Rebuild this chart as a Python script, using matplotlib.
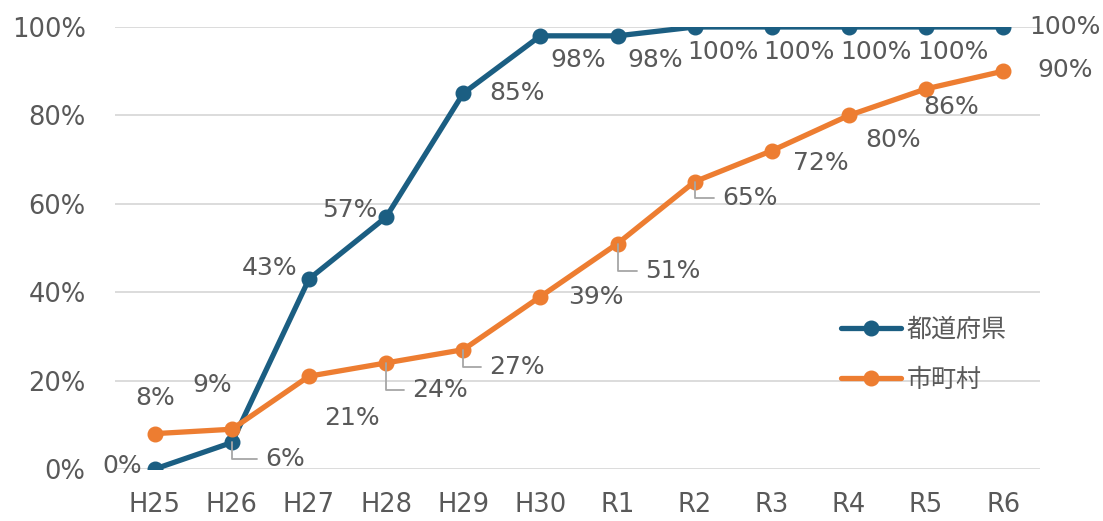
import matplotlib
matplotlib.use("Agg")
import matplotlib.pyplot as plt

plt.rcParams['font.family'] = ['DejaVu Sans', 'Noto Sans CJK JP']

categories = ["H25", "H26", "H27", "H28", "H29", "H30", "R1", "R2", "R3", "R4", "R5", "R6"]
pref_values = [0, 6, 43, 57, 85, 98, 98, 100, 100, 100, 100, 100]
muni_values = [8, 9, 21, 24, 27, 39, 51, 65, 72, 80, 86, 90]
series_names = ["都道府県", "市町村"]
y_ticks = [0, 20, 40, 60, 80, 100]

# layout: label offsets in pixels (dx, dy) and leader-line flags
pref_offsets = [(-33, 3), (53, -17), (-39, 11), (-36, 7), (54, 0), (38, -24), (38, -24),
                (28, -25), (27, -25), (27, -25), (27, -25), (62, 0)]
pref_leader = [False, True] + [False] * 10
muni_offsets = [(0, 36), (-20, 44), (43, -42), (54, -27), (54, -17), (55, 0), (55, -27),
                (55, -16), (49, -12), (44, -25), (25, -18), (62, 1)]
muni_leader = [False, False, False, True, True, False, True, True, False, False, False, False]

BLUE = "#1B5E82"
ORANGE = "#ED7D31"
TXT = "#595959"

fig = plt.figure(figsize=(11.03, 5.21), dpi=100)
ax = fig.add_axes([0.104, 0.0998, 0.839, 0.8484])
x = list(range(len(categories)))

ax.plot(x, pref_values, color=BLUE, lw=3.8, marker='o', ms=10.5, label=series_names[0],
        solid_capstyle='round', zorder=3)
ax.plot(x, muni_values, color=ORANGE, lw=3.8, marker='o', ms=10.5, label=series_names[1],
        solid_capstyle='round', zorder=3)

ax.set_xlim(-0.52, 11.48)
ax.set_ylim(0, 100)
ax.set_yticks(y_ticks)
ax.set_yticklabels([f"{v}%" for v in y_ticks])
ax.set_xticks(x)
ax.set_xticklabels(categories)
ax.tick_params(axis='both', length=0, labelsize=18.5, labelcolor=TXT)
ax.tick_params(axis='y', pad=21)
ax.tick_params(axis='x', pad=16.5)
for s in ax.spines.values():
    s.set_visible(False)
ax.yaxis.grid(True, color="#D9D9D9", lw=1.3)
ax.set_axisbelow(True)


def add_labels(vals, offsets, leaders):
    for i, (v, off, ld) in enumerate(zip(vals, offsets, leaders)):
        kw = {}
        if ld:
            kw['arrowprops'] = dict(arrowstyle='-', color='#A6A6A6', lw=1.3,
                                    connectionstyle='angle,angleA=180,angleB=90,rad=0',
                                    relpos=(0, 0.5), shrinkA=4, shrinkB=0)
        ax.annotate(f"{v}%", xy=(i, v), xytext=off, textcoords='offset pixels',
                    ha='center', va='center', fontsize=18, color=TXT, zorder=4, **kw)


add_labels(pref_values, pref_offsets, pref_leader)
add_labels(muni_values, muni_offsets, muni_leader)

leg = ax.legend(loc='upper left', bbox_to_anchor=(0.761, 0.395), frameon=False,
                handlelength=2.4, labelspacing=0.95, handletextpad=0.2,
                labelcolor=TXT, prop={'family': ['Noto Sans CJK JP'], 'size': 18})

fig.savefig("out.png", dpi=100, facecolor='white')
